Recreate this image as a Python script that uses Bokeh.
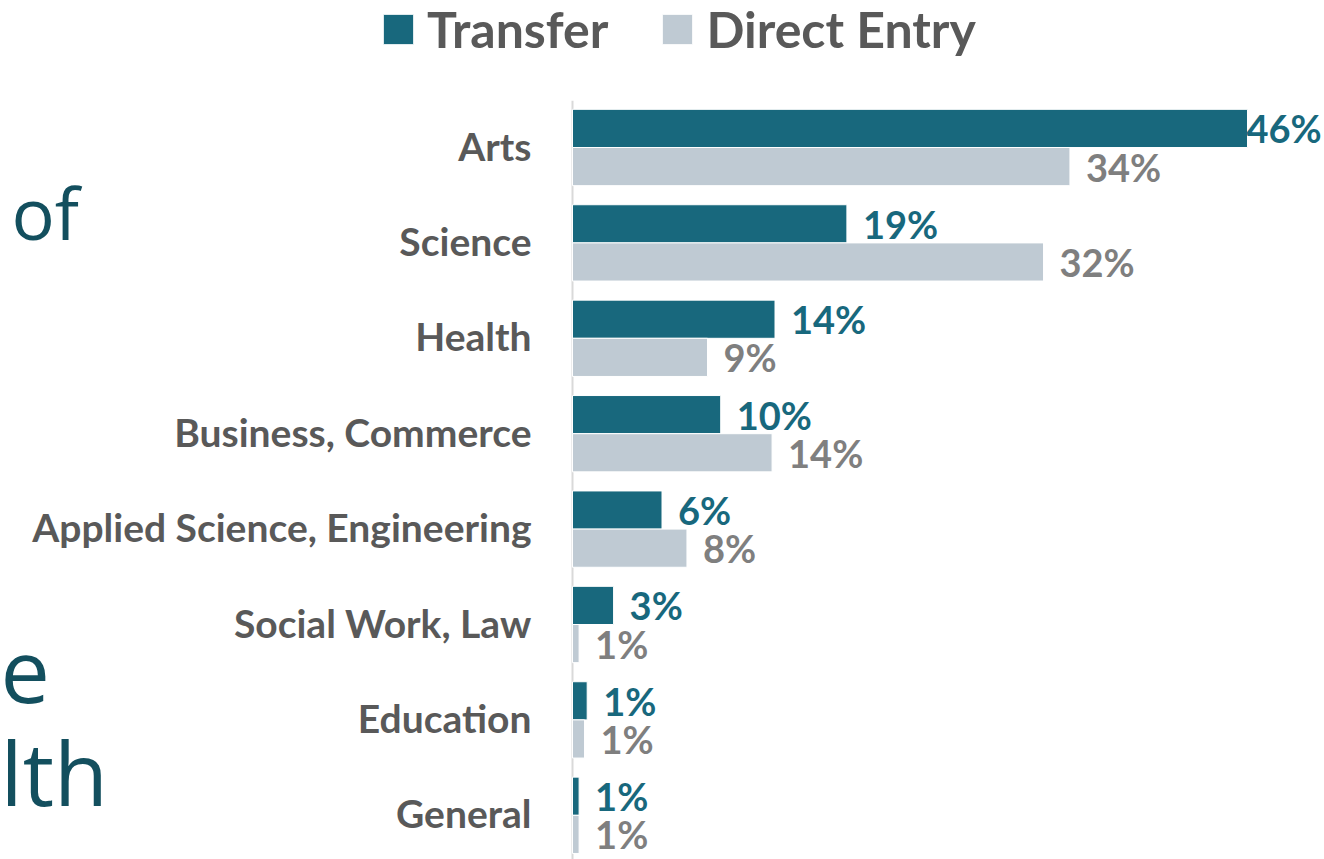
from bokeh.plotting import figure
from bokeh.models import ColumnDataSource, Range1d, Label, Legend, LegendItem
from bokeh.transform import dodge
from bokeh.core.properties import value
from bokeh.embed import file_html
from bokeh.resources import INLINE

# ---- data ----
categories = ["Arts", "Science", "Health", "Business, Commerce",
              "Applied Science, Engineering", "Social Work, Law", "Education", "General"]
transfer = [46.0, 18.7, 13.8, 10.1, 6.1, 2.8, 1.0, 0.45]
direct = [33.9, 32.1, 9.2, 13.6, 7.8, 0.45, 0.82, 0.45]
transfer_labels = ["46%", "19%", "14%", "10%", "6%", "3%", "1%", "1%"]
direct_labels = ["34%", "32%", "9%", "14%", "8%", "1%", "1%", "1%"]

TEAL = "#18687D"
GREY_BAR = "#BFCAD3"
LABEL_GREY = "#595959"
VAL_GREY = "#7F7F7F"
FONT = "Lato"

W, H = 1324, 859
px_per_unit = 675 / 46.0
x0 = 572  # pixel of value 0 in figure
unit_y = 95.4
top_center = 147

x_range = Range1d(-x0 / px_per_unit, (W - x0) / px_per_unit)
n = len(categories)
y_start = (n - 1) + (H - (top_center + (n - 1) * unit_y)) / unit_y
y_end = -top_center / unit_y
y_range = Range1d(y_start, y_end)

ypos = list(range(n))
src = ColumnDataSource(dict(
    cat=categories, y=ypos, transfer=transfer, direct=direct,
    tl=transfer_labels, dl=direct_labels,
    toff=[16 if v < 40 else -1 for v in transfer],
))

p = figure(width=W, height=H, x_range=x_range, y_range=y_range,
           x_axis_type=None, y_axis_type=None, toolbar_location=None,
           output_backend="svg", min_border=0, outline_line_color=None,
           background_fill_color="white", border_fill_color="white")
p.grid.visible = False

# axis line
p.segment(x0=[0], y0=[-0.49], x1=[0], y1=[7.6], line_color="#D9D9D9", line_width=2)

r_t = p.hbar(y=dodge("y", -0.2, range=p.y_range), right="transfer", left=0, height=0.4,
             source=src, fill_color=TEAL, line_color="white", line_width=1)
r_d = p.hbar(y=dodge("y", 0.2, range=p.y_range), right="direct", left=0, height=0.4,
             source=src, fill_color=GREY_BAR, line_color="white", line_width=1)

# category labels
p.text(x=0, y="y", text="cat", source=src, x_offset=-41, y_offset=-2,
       text_align="right", text_baseline="middle",
       text_font=value(FONT), text_font_style="bold", text_font_size="39px",
       text_color=LABEL_GREY)

# value labels
p.text(x="transfer", y=dodge("y", -0.2, range=p.y_range), text="tl", source=src,
       x_offset="toff", y_offset=0, text_align="left", text_baseline="middle",
       text_font=value(FONT), text_font_style="bold", text_font_size="38px",
       text_color=TEAL)
p.text(x="direct", y=dodge("y", 0.2, range=p.y_range), text="dl", source=src,
       x_offset=16, y_offset=0, text_align="left", text_baseline="middle",
       text_font=value(FONT), text_font_style="bold", text_font_size="38px",
       text_color=VAL_GREY)

# legend
legend = Legend(items=[LegendItem(label="Transfer", renderers=[r_t]),
                       LegendItem(label="Direct Entry", renderers=[r_d])],
                orientation="horizontal", location=(379, H - 59),
                glyph_width=38, glyph_height=38, label_standoff=10, spacing=50,
                padding=0, margin=0, border_line_color=None,
                background_fill_alpha=0,
                label_text_font=FONT, label_text_font_style="bold",
                label_text_font_size="50px", label_text_color=LABEL_GREY)
p.add_layout(legend, "center")

# slide text fragments on the left
frag_color = "#134F5E"
for txt, px, py, size in [("of", 11, 211, "72px"), ("e", 0, 671, "88px"), ("lth", 0, 771, "88px")]:
    p.add_layout(Label(x=px, y=H - py, x_units="screen", y_units="screen",
                       text=txt, text_font="Open Sans", text_font_size=size,
                       text_color=frag_color, text_baseline="alphabetic"))

open("out.html", "w").write(file_html(p, INLINE))
